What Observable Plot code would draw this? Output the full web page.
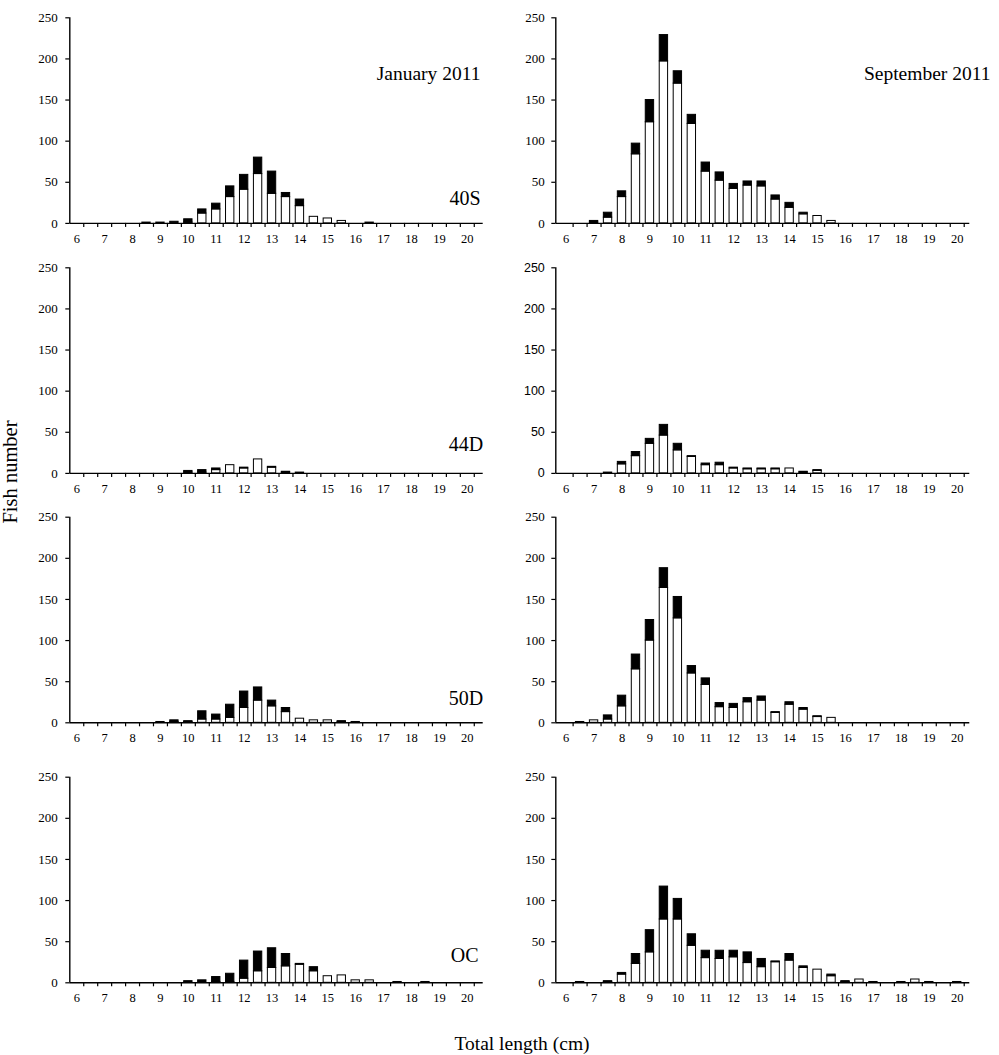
<!DOCTYPE html>
<html>
<head>
<meta charset="utf-8">
<script src="https://cdn.jsdelivr.net/npm/d3@7"></script>
<script src="https://cdn.jsdelivr.net/npm/@observablehq/plot@0.6"></script>
<style>
  body { margin: 0; background: #fff; }
  #chart { position: relative; width: 999px; height: 1055px; background: #fff;
           font-family: "Liberation Serif", "Times New Roman", serif; color: #000; }
  .panel { position: absolute; }
  .panel svg { display: block; overflow: visible; }
  .panel svg text { font-family: "Liberation Serif", "Times New Roman", serif !important; fill: #000; }
  .panel.sansY svg g[aria-label="y-axis tick label"] text { font-family: "Liberation Sans", Arial, sans-serif !important; }
  .lbl { position: absolute; }
</style>
</head>
<body>
<div id="chart"></div>
<script>
// Length classes (cm)
const lengths = [6,6.5,7,7.5,8,8.5,9,9.5,10,10.5,11,11.5,12,12.5,13,13.5,14,14.5,15,15.5,16,16.5,17,17.5,18,18.5,19,19.5,20];
const labelLengths = [6,7,8,9,10,11,12,13,14,15,16,17,18,19,20];
const yTicks = [0,50,100,150,200,250];

// January 2011 (white = lower segment, black = upper segment)
const jan40S_white = [0,0,0,0,0,1,1,0,1,12,17,32,41,60,36,32,21,8,6,3,0,1,0,0,0,0,0,0,0];
const jan40S_black = [0,0,0,0,0,0,0,2,4,5,7,13,18,20,27,5,8,0,0,0,0,0,0,0,0,0,0,0,0];
const jan44D_white = [0,0,0,0,0,0,0,0,1,1,4,10,6,17,7,1,1,0,0,0,0,0,0,0,0,0,0,0,0];
const jan44D_black = [0,0,0,0,0,0,0,0,2,3,2,0,1,0,1,1,0,0,0,0,0,0,0,0,0,0,0,0,0];
const jan50D_white = [0,0,0,0,0,0,1,1,1,4,4,6,18,27,20,13,5,3,3,1,1,0,0,0,0,0,0,0,0];
const jan50D_black = [0,0,0,0,0,0,0,2,1,10,6,16,20,16,7,5,0,0,0,1,0,0,0,0,0,0,0,0,0];
const janOC_white  = [0,0,0,0,0,0,0,0,0,0,1,1,5,14,18,20,22,14,8,9,3,3,0,1,0,1,0,0,0];
const janOC_black  = [0,0,0,0,0,0,0,0,2,3,6,10,22,24,24,15,1,5,0,0,0,0,0,0,0,0,0,0,0];

// September 2011
const sep40S_white = [0,0,1,7,32,84,123,197,170,121,63,52,42,46,45,29,19,11,9,3,0,0,0,0,0,0,0,0,0];
const sep40S_black = [0,0,2,6,7,13,27,32,15,11,11,10,6,5,6,5,6,2,0,0,0,0,0,0,0,0,0,0,0];
const sep44D_white = [0,0,0,1,11,21,36,46,28,20,10,10,6,5,5,5,6,1,3,0,0,0,0,0,0,0,0,0,0];
const sep44D_black = [0,0,0,0,3,5,6,13,8,1,2,3,1,1,1,1,0,1,1,0,0,0,0,0,0,0,0,0,0];
const sep50D_white = [0,1,3,4,20,65,100,164,127,60,46,19,18,25,27,12,22,16,7,6,0,0,0,0,0,0,0,0,0];
const sep50D_black = [0,0,0,5,13,18,25,24,26,9,8,5,5,5,5,1,3,2,1,0,0,0,0,0,0,0,0,0,0];
const sepOC_white  = [0,1,0,1,10,23,37,77,77,45,30,29,31,24,19,25,27,18,16,8,1,4,1,0,1,4,1,0,1];
const sepOC_black  = [0,0,0,1,2,12,27,40,25,14,9,10,8,13,10,1,8,2,0,2,1,0,0,0,0,0,0,0,0];

const months = ["January 2011", "September 2011"];
const sites = ["40S", "44D", "50D", "OC"];

const panels = [
  {row:0, col:0, white:jan40S_white, black:jan40S_black, title:months[0], site:sites[0], siteDx:-2.7, siteDy:-18.7},
  {row:0, col:1, white:sep40S_white, black:sep40S_black, title:months[1]},
  {row:1, col:0, white:jan44D_white, black:jan44D_black, site:sites[1], siteDx:0, siteDy:-22.7},
  {row:1, col:1, white:sep44D_white, black:sep44D_black, sansY:true},
  {row:2, col:0, white:jan50D_white, black:jan50D_black, site:sites[2], siteDx:0, siteDy:-17.7},
  {row:2, col:1, white:sep50D_white, black:sep50D_black},
  {row:3, col:0, white:janOC_white, black:janOC_black, site:sites[3], siteDx:-4.7, siteDy:-20.7},
  {row:3, col:1, white:sepOC_white, black:sepOC_black}
];

const rowTop = [0, 250, 500, 760];
const rowMarginTop = [17.3, 17.3, 16.7, 16.7];
const colLeft = [0, 500];
const W = 499, H = 250;
const serif = "Liberation Serif, Times New Roman, serif";
const sans = "Liberation Sans, Arial, sans-serif";

const chart = document.getElementById("chart");

for (const p of panels) {
  const rows = lengths.map((L, i) => ({L, w: p.white[i], b: p.black[i]}));
  const dom = p.col === 0 ? [5.75, 20.57] : [5.63, 20.45];
  const mL = p.col === 0 ? 69.3 : 55.3;
  const mR = p.col === 0 ? 16.3 : 29.7;
  const mT = rowMarginTop[p.row];
  const mB = H - mT - 205.6;
  const half = 0.25;
  const marks = [
    Plot.rectY(rows.filter(d => d.w > 0), {
      x1: d => d.L - half, x2: d => d.L + half, y1: 0, y2: "w",
      fill: "white", stroke: "black", strokeWidth: 1, insetLeft: 2.8, insetRight: 2.8
    }),
    Plot.rectY(rows.filter(d => d.b > 0), {
      x1: d => d.L - half, x2: d => d.L + half, y1: "w", y2: d => d.w + d.b,
      fill: "black", stroke: "black", strokeWidth: 1, insetLeft: 2.8, insetRight: 2.8
    }),
    Plot.ruleY([0], {stroke: "black", strokeWidth: 1.4}),
    Plot.ruleX([dom[0]], {stroke: "black", strokeWidth: 1.4}),
    Plot.axisY(yTicks, {
      tickSize: 4, tickPadding: p.col === 0 ? 8 : 7, strokeWidth: 1.2, label: null,
      fontFamily: p.sansY ? sans : serif, fontSize: p.sansY ? 12.5 : 13
    }),
    Plot.axisX(lengths.map(L => L + half), {
      tickSize: 4, tickFormat: () => "", strokeWidth: 1.2, label: null
    }),
    Plot.axisX(labelLengths, {
      tickSize: 0, tickPadding: 10.7, label: null, fontFamily: serif, fontSize: 12.5
    })
  ];
  if (p.title) {
    marks.push(Plot.text([p.title], {
      text: d => d, frameAnchor: "top-right", textAnchor: "end", lineAnchor: "bottom",
      dx: p.col === 0 ? -2.7 : 20.7, dy: 61.7, fontSize: 19.5, fontFamily: serif, fill: "black"
    }));
  }
  if (p.site) {
    marks.push(Plot.text([p.site], {
      text: d => d, frameAnchor: "bottom-right", textAnchor: "end", lineAnchor: "bottom",
      dx: p.siteDx, dy: p.siteDy, fontSize: 20, fontFamily: serif, fill: "black"
    }));
  }
  const svg = Plot.plot({
    width: W, height: H,
    marginLeft: mL, marginRight: mR, marginTop: mT, marginBottom: mB,
    x: {type: "linear", domain: dom},
    y: {domain: [0, 250]},
    style: {fontFamily: serif, fontSize: "13px", background: "white", color: "black", overflow: "visible"},
    marks
  });
  const div = document.createElement("div");
  div.className = "panel" + (p.sansY ? " sansY" : "");
  div.style.left = colLeft[p.col] + "px";
  div.style.top = rowTop[p.row] + "px";
  div.appendChild(svg);
  chart.appendChild(div);
}

// Axis titles
const yTitle = d3.select(chart).append("svg")
  .attr("class", "lbl")
  .style("left", "0px").style("top", "0px")
  .attr("width", 40).attr("height", 1055);
yTitle.append("text")
  .attr("transform", "translate(17,472) rotate(-90)")
  .attr("text-anchor", "middle")
  .attr("font-family", serif)
  .attr("font-size", 20.5)
  .text("Fish number");

const xTitle = d3.select(chart).append("svg")
  .attr("class", "lbl")
  .style("left", "0px").style("top", "1000px")
  .attr("width", 999).attr("height", 55);
xTitle.append("text")
  .attr("x", 522).attr("y", 50)
  .attr("text-anchor", "middle")
  .attr("font-family", serif)
  .attr("font-size", 19.5)
  .text("Total length (cm)");
</script>
</body>
</html>
